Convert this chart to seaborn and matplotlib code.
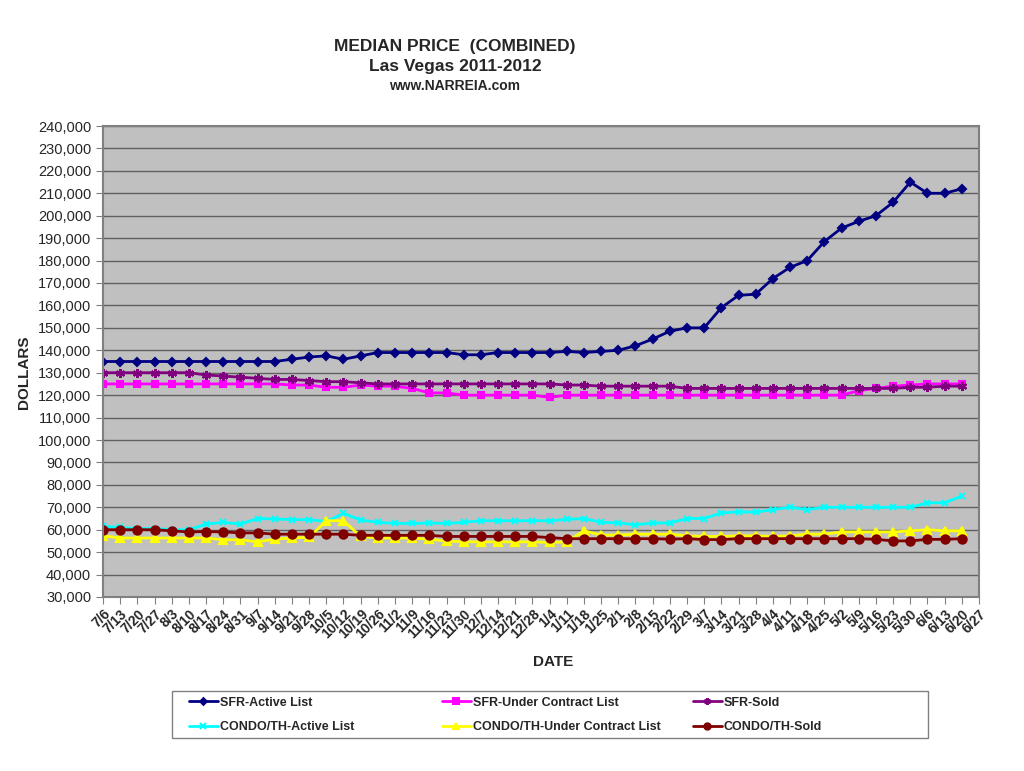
import numpy as np
import matplotlib
matplotlib.use("Agg")
from matplotlib import pyplot as plt
from matplotlib.patches import Rectangle
from matplotlib.ticker import FuncFormatter
import seaborn as sns

# week labels on the x axis (last one has no data yet)
dates = ["7/6", "7/13", "7/20", "7/27", "8/3", "8/10", "8/17", "8/24", "8/31",
         "9/7", "9/14", "9/21", "9/28", "10/5", "10/12", "10/19", "10/26",
         "11/2", "11/9", "11/16", "11/23", "11/30", "12/7", "12/14", "12/21",
         "12/28", "1/4", "1/11", "1/18", "1/25", "2/1", "2/8", "2/15", "2/22",
         "2/29", "3/7", "3/14", "3/21", "3/28", "4/4", "4/11", "4/18", "4/25",
         "5/2", "5/9", "5/16", "5/23", "5/30", "6/6", "6/13", "6/20", "6/27"]

sfr_active = [135000] * 11 + [136000, 137000, 137500, 136000, 137500] + [139000] * 5 + \
    [138000, 138000] + [139000] * 4 + \
    [139500, 139000, 139500, 140000, 142000, 145000, 148500, 150000, 150000,
     159000, 164500, 165000, 172000, 177000, 180000, 188500, 194500, 197500,
     200000, 206000, 215000, 210000, 210000, 212000]

sfr_under_contract = [125000] * 11 + \
    [124500, 124500, 123500, 123500, 124500, 124000, 124000, 123000, 121000, 121000] + \
    [120000] * 5 + [119000] + [120000] * 17 + \
    [122000, 123000, 124000, 124500, 125000, 125000, 125000]

sfr_sold = [130000] * 6 + \
    [129000, 128500, 128000, 127500, 127000, 127000, 126500, 126000, 126000, 125500] + \
    [125000] * 11 + [124500, 124500] + [124000] * 5 + [123000] * 12 + \
    [123000, 123500, 123500, 124000, 124000]

condo_active = [61500, 61000, 60500, 60500, 60000, 60000, 62500, 63300, 62500, 65000,
                64800, 64500, 64500, 63600, 67300, 64300, 63300, 62800, 62800, 63000,
                62800, 63300, 64000, 64000, 64000, 64000, 64000, 64600, 65000, 63300,
                63000, 62200, 63000, 63000, 65000, 65000, 67500, 68000, 67800, 69000,
                70000, 69000, 70000, 70000, 70000, 70000, 70000, 70000, 72000, 72000,
                75000]

condo_under_contract = [57300] + [56300] * 6 + \
    [55500, 55500, 54600, 55800, 56300, 56600, 64000, 64000] + \
    [57000, 56300, 56300, 56300, 55700, 55000] + [54600] * 5 + \
    [54300, 54600, 59500, 57600, 57600, 58000, 58000, 58000, 57300, 57000,
     57000, 57300, 57300, 57000, 57300, 58000, 58000, 59000, 59000, 59000,
     59000, 59500, 60000, 59500, 59500]

condo_sold = [60000] * 4 + [59500, 59000, 59200, 59000, 58600, 58600] + \
    [58000] * 5 + [57500] * 5 + [57000] * 6 + [56500] + [56000] * 6 + \
    [55800, 56000, 55600, 55600] + [56000] * 8 + \
    [55700, 55000, 55000, 55700, 55700, 56000]

series = [
    ("SFR-Active List", sfr_active, "#000080", "D", 4.5),
    ("SFR-Under Contract List", sfr_under_contract, "#FF00FF", "s", 5),
    ("SFR-Sold", sfr_sold, "#800080", (6, 2, 0), 6.5),
    ("CONDO/TH-Active List", condo_active, "#00FFFF", "x", 5),
    ("CONDO/TH-Under Contract List", condo_under_contract, "#FFFF00", "^", 5.5),
    ("CONDO/TH-Sold", condo_sold, "#800000", "o", 6),
]

sns.set_style("white")
plt.rcParams["font.family"] = ["Liberation Sans", "DejaVu Sans"]

fig = plt.figure(figsize=(10.24, 7.71), dpi=100)
ax = fig.add_axes([103 / 1024, 1 - 597 / 771, 876 / 1024, 471 / 771])
ax.set_facecolor("#C0C0C0")

x = np.arange(len(sfr_active))
for name, vals, col, mk, ms in series:
    sns.lineplot(x=x, y=vals, ax=ax, color=col, marker=mk, markersize=ms,
                 markeredgecolor=col, markerfacecolor=col, markeredgewidth=1.5,
                 linewidth=2, label=name, legend=False)

ax.set_xlim(0, len(dates) - 1)
ax.set_ylim(30000, 240000)
ax.set_yticks(np.arange(30000, 240001, 10000))
ax.yaxis.set_major_formatter(FuncFormatter(lambda v, p: f"{int(v):,}"))
ax.set_xticks(np.arange(len(dates)))
ax.set_xticklabels(dates, rotation=45, ha="right", rotation_mode="anchor",
                   fontsize=10, fontweight="bold")
ax.tick_params(axis="y", labelsize=10.5, length=5, color="#808080", direction="out",
               left=True)
ax.tick_params(axis="x", length=5, color="#808080", direction="out", bottom=True, pad=2)
ax.grid(axis="y", color="#606060", linewidth=1)
ax.set_axisbelow(True)
for side in ax.spines.values():
    side.set_color("#808080")
    side.set_linewidth(1.5)

ax.set_ylabel("")
fig.text(24 / 1024, 1 - 372 / 771, "DOLLARS", rotation=90, ha="center", va="center",
         fontsize=11, fontweight="bold")
fig.text(553 / 1024, 1 - 662 / 771, "DATE", ha="center", va="center",
         fontsize=11, fontweight="bold")

fig.text(455 / 1024, 1 - 47 / 771, "MEDIAN PRICE  (COMBINED)", ha="center", va="center",
         fontsize=12.5, fontweight="bold")
fig.text(455 / 1024, 1 - 67 / 771, "Las Vegas 2011-2012", ha="center", va="center",
         fontsize=12.5, fontweight="bold")
fig.text(455 / 1024, 1 - 86 / 771, "www.NARREIA.com", ha="center", va="center",
         fontsize=10, fontweight="bold")

# Excel-style legend: equal-width columns inside one box
handles, labels = ax.get_legend_handles_labels()
fig.add_artist(Rectangle((172 / 1024, 1 - 738 / 771), 756 / 1024, 47 / 771,
                         transform=fig.transFigure, facecolor="white",
                         edgecolor="#808080", linewidth=1, zorder=1))
for c, xpos in enumerate([189, 442, 693]):
    cols = [c, c + 3]
    lg = fig.legend([handles[i] for i in cols], [labels[i] for i in cols],
                    loc="center left", bbox_to_anchor=(xpos / 1024, 1 - 715 / 771),
                    ncol=1, frameon=False, prop={"weight": "bold", "size": 9},
                    handlelength=2.3, handletextpad=0.15, borderpad=0,
                    borderaxespad=0, labelspacing=1.0, markerscale=0.75)
    lg.set_zorder(2)

fig.savefig("out.png", dpi=100, facecolor="white")
